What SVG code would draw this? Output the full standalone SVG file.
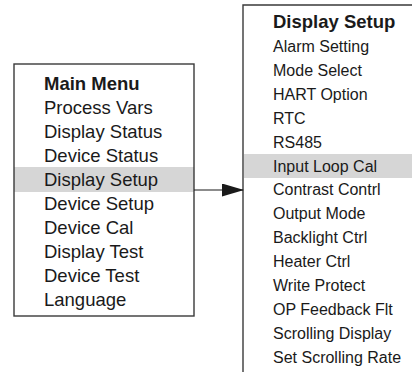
<svg xmlns="http://www.w3.org/2000/svg" width="412" height="372" viewBox="0 0 412 372">
<style>
text{font-family:"Liberation Sans",Arial,sans-serif;fill:#1a1a1a}
.l{font-size:18.5px}
.r{font-size:16px}
.b{font-weight:bold;font-size:18.5px}
.box{fill:none;stroke:#3a3a3a;stroke-width:1.4}
.hl{fill:#d6d6d6}
</style>
<defs>
<marker id="ah" markerWidth="22" markerHeight="13" refX="21" refY="6.5" orient="auto" markerUnits="userSpaceOnUse">
<path d="M0,0 L22,6.5 L0,13 Z" fill="#1a1a1a"/>
</marker>
</defs>
<rect width="412" height="372" fill="#fff"/>
<g id="main-menu">
<rect class="hl" x="14" y="167" width="180" height="25"/>
<rect class="box" x="14" y="64" width="180" height="252"/>
<text class="b" x="44" y="90">Main Menu</text>
<text class="l" x="44" y="114">Process Vars</text>
<text class="l" x="44" y="138">Display Status</text>
<text class="l" x="44" y="162">Device Status</text>
<text class="l" x="44" y="186">Display Setup</text>
<text class="l" x="44" y="210">Device Setup</text>
<text class="l" x="44" y="234">Device Cal</text>
<text class="l" x="44" y="258">Display Test</text>
<text class="l" x="44" y="282">Device Test</text>
<text class="l" x="44" y="306">Language</text>
</g>
<g id="display-setup">
<rect class="hl" x="244" y="154" width="168" height="24"/>
<path class="box" d="M412,5 H243 V372"/>
<text class="b" x="273" y="28">Display Setup</text>
<text class="r" x="273" y="52">Alarm Setting</text>
<text class="r" x="273" y="76">Mode Select</text>
<text class="r" x="273" y="100">HART Option</text>
<text class="r" x="273" y="124">RTC</text>
<text class="r" x="273" y="148">RS485</text>
<text class="r" x="273" y="172">Input Loop Cal</text>
<text class="r" x="273" y="195">Contrast Contrl</text>
<text class="r" x="273" y="219">Output Mode</text>
<text class="r" x="273" y="243">Backlight Ctrl</text>
<text class="r" x="273" y="267">Heater Ctrl</text>
<text class="r" x="273" y="291">Write Protect</text>
<text class="r" x="273" y="315">OP Feedback Flt</text>
<text class="r" x="273" y="339">Scrolling Display</text>
<text class="r" x="273" y="363">Set Scrolling Rate</text>
</g>
<g id="connectors">
<line x1="194" y1="190" x2="243" y2="190" stroke="#1a1a1a" stroke-width="1.2" marker-end="url(#ah)"/>
</g>
</svg>
